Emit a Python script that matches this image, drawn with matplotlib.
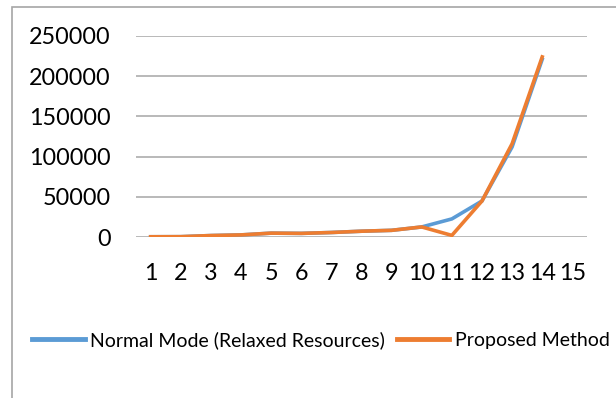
import matplotlib
matplotlib.use("Agg")
import matplotlib.pyplot as plt
from matplotlib.patches import Rectangle

# Run indices and measured values for each mode
categories = list(range(1, 16))
normal_mode = [300, 400, 1800, 2600, 4800, 4500, 5600, 7200, 8300, 12500, 22500, 44800, 112000, 221000]
proposed_method = [300, 400, 1800, 2600, 4800, 4500, 5600, 7200, 8300, 12500, 2000, 44800, 116000, 224000]
y_ticks = [0, 50000, 100000, 150000, 200000, 250000]
series_labels = ["Normal Mode (Relaxed Resources)", "Proposed Method"]

plt.rcParams["font.family"] = ["Lato", "DejaVu Sans"]

W, H = 616, 398
fig = plt.figure(figsize=(W / 100, H / 100), dpi=100)

# Chart frame (extends past the right and bottom edges)
fig.patches.append(Rectangle((12 / W, -0.1), 1.2, 1 - 6.5 / H + 0.1,
                             transform=fig.transFigure, fill=False,
                             edgecolor="#A6A6A6", linewidth=1.2))

ax = fig.add_axes([135.6 / W, (H - 237) / H, (587.4 - 135.6) / W, 201 / H])

blue = "#5B9BD5"
orange = "#ED7D31"
ax.plot(categories[:len(normal_mode)], normal_mode, color=blue, linewidth=2.6,
        solid_joinstyle="miter", label=series_labels[0], zorder=3)
ax.plot(categories[:len(proposed_method)], proposed_method, color=orange, linewidth=2.6,
        solid_joinstyle="miter", label=series_labels[1], zorder=4)

ax.set_xlim(0.5, 15.5)
ax.set_ylim(0, 250000)
ax.set_xticks(categories)
ax.set_xticklabels([str(c) for c in categories])
ax.set_yticks(y_ticks)
ax.set_yticklabels([str(v) for v in y_ticks])
ax.tick_params(axis="both", length=0, labelsize=16.8, colors="black")
ax.tick_params(axis="x", pad=18.5)
ax.tick_params(axis="y", pad=18)

ax.grid(axis="y", color="#A6A6A6", linewidth=1.1)
ax.set_axisbelow(True)
for side in ["top", "right", "left", "bottom"]:
    ax.spines[side].set_visible(False)

handles, labels = ax.get_legend_handles_labels()
leg = fig.legend(handles, labels, loc="center left", bbox_to_anchor=(32 / W, 1 - 340 / H),
                 ncol=2, frameon=False, fontsize=14.0, handlelength=2.7,
                 handletextpad=0.3, columnspacing=0.6, borderaxespad=0, borderpad=0)
for line in leg.get_lines():
    line.set_linewidth(3.5)

fig.savefig("out.png", dpi=100)
